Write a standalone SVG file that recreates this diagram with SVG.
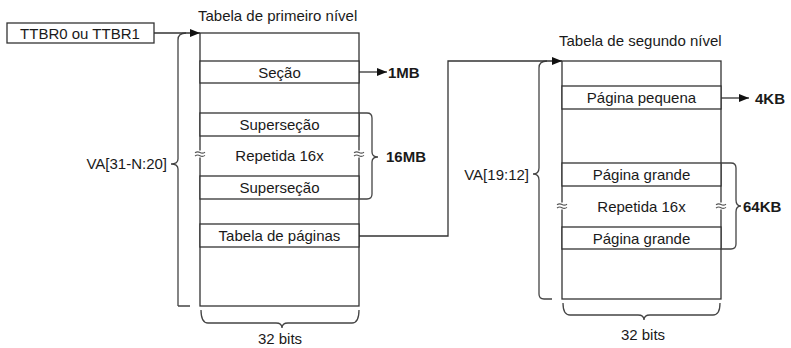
<svg xmlns="http://www.w3.org/2000/svg" width="791" height="348" viewBox="0 0 791 348">
<style>
text{font-family:"Liberation Sans",Arial,sans-serif;font-size:15px;fill:#1a1a1a}
.b{font-weight:bold}
.m{text-anchor:middle}
.e{text-anchor:end}
.box{fill:#fff;stroke:#333;stroke-width:1.3}
.ln{fill:none;stroke:#333;stroke-width:1.3}
.br{fill:none;stroke:#444;stroke-width:1.3}
</style>
<defs>
<marker id="ah" viewBox="0 0 10 8" refX="10" refY="4" markerWidth="10" markerHeight="8" markerUnits="userSpaceOnUse" orient="auto">
<path d="M0,0 L10,4 L0,8 Z" fill="#111"/>
</marker>
<g id="wave">
<rect x="-6" y="-3.5" width="12" height="7" fill="#fff"/>
<path d="M-5,-1.2 Q-2.5,-3 0,-1.5 T5,-1.8 M-5,2 Q-2.5,0.2 0,1.7 T5,1.4" fill="none" stroke="#555" stroke-width="1.1"/>
</g>
</defs>

<g id="ttbr">
<rect class="box" x="7" y="23" width="147" height="20"/>
<text class="m" x="80" y="38.5">TTBR0 ou TTBR1</text>
</g>

<g id="table1">
<text x="198" y="21">Tabela de primeiro nível</text>
<rect class="box" x="200" y="33" width="159" height="273"/>
<rect class="box" x="200" y="61" width="159" height="22"/>
<text class="m" x="279.5" y="77.5">Seção</text>
<rect class="box" x="200" y="113" width="159" height="23"/>
<text class="m" x="279.5" y="130">Superseção</text>
<text class="m" x="279.5" y="161">Repetida 16x</text>
<rect class="box" x="200" y="176" width="159" height="23"/>
<text class="m" x="279.5" y="193">Superseção</text>
<rect class="box" x="200" y="224" width="159" height="23"/>
<text class="m" x="279.5" y="241">Tabela de páginas</text>
<use href="#wave" x="200" y="154"/>
<use href="#wave" x="359" y="154"/>
</g>

<g id="table2">
<text x="559" y="46">Tabela de segundo nível</text>
<rect class="box" x="562" y="61" width="159" height="238"/>
<rect class="box" x="562" y="86" width="159" height="23"/>
<text class="m" x="641.5" y="103">Página pequena</text>
<rect class="box" x="562" y="163" width="159" height="23"/>
<text class="m" x="641.5" y="180">Página grande</text>
<text class="m" x="641.5" y="212">Repetida 16x</text>
<rect class="box" x="562" y="227" width="159" height="22"/>
<text class="m" x="641.5" y="243.5">Página grande</text>
<use href="#wave" x="562" y="206"/>
<use href="#wave" x="721" y="206"/>
</g>

<g id="braces">
<path class="br" d="M178,306 L190,306 M178,306 L178,169 Q178,164 171,164 Q178,164 178,159 L178,40 Q178,33 186,33"/>
<text class="e" x="167" y="169">VA[31-N:20]</text>
<path class="br" d="M359,113 L367,113 Q372,113 372,118 L372,152 Q372,157 378,157 Q372,157 372,162 L372,194 Q372,199 367,199 L359,199"/>
<text class="b" x="386" y="162">16MB</text>
<path class="br" d="M201,310 Q201,323 208,323 L276,323 Q282,323 282,328 Q282,323 288,323 L352,323 Q359,323 359,310"/>
<text class="m" x="280" y="344">32 bits</text>

<path class="br" d="M552,299 L544,299 Q539,299 539,294 L539,180 Q539,174 533,174 Q539,174 539,168 L539,68 Q539,61 547,61"/>
<text class="e" x="529" y="180">VA[19:12]</text>
<path class="br" d="M721,163 L731,163 Q736,163 736,168 L736,200 Q736,206 741,206 Q736,206 736,212 L736,244 Q736,249 731,249 L721,249"/>
<text class="b" x="743" y="212">64KB</text>
<path class="br" d="M563,303 Q563,315 570,315 L638,315 Q644,315 644,320 Q644,315 650,315 L713,315 Q720,315 720,303"/>
<text class="m" x="643" y="340">32 bits</text>
</g>

<g id="connectors">
<path class="ln" d="M154,33 L200,33" marker-end="url(#ah)"/>
<path class="ln" d="M359,72 L387,72" marker-end="url(#ah)"/>
<text class="b" x="388" y="78">1MB</text>
<path class="ln" d="M721,98 L749,98" marker-end="url(#ah)"/>
<text class="b" x="755" y="104">4KB</text>
<path class="ln" d="M359,236 L448,236 L448,61 L562,61" marker-end="url(#ah)"/>
</g>
</svg>
